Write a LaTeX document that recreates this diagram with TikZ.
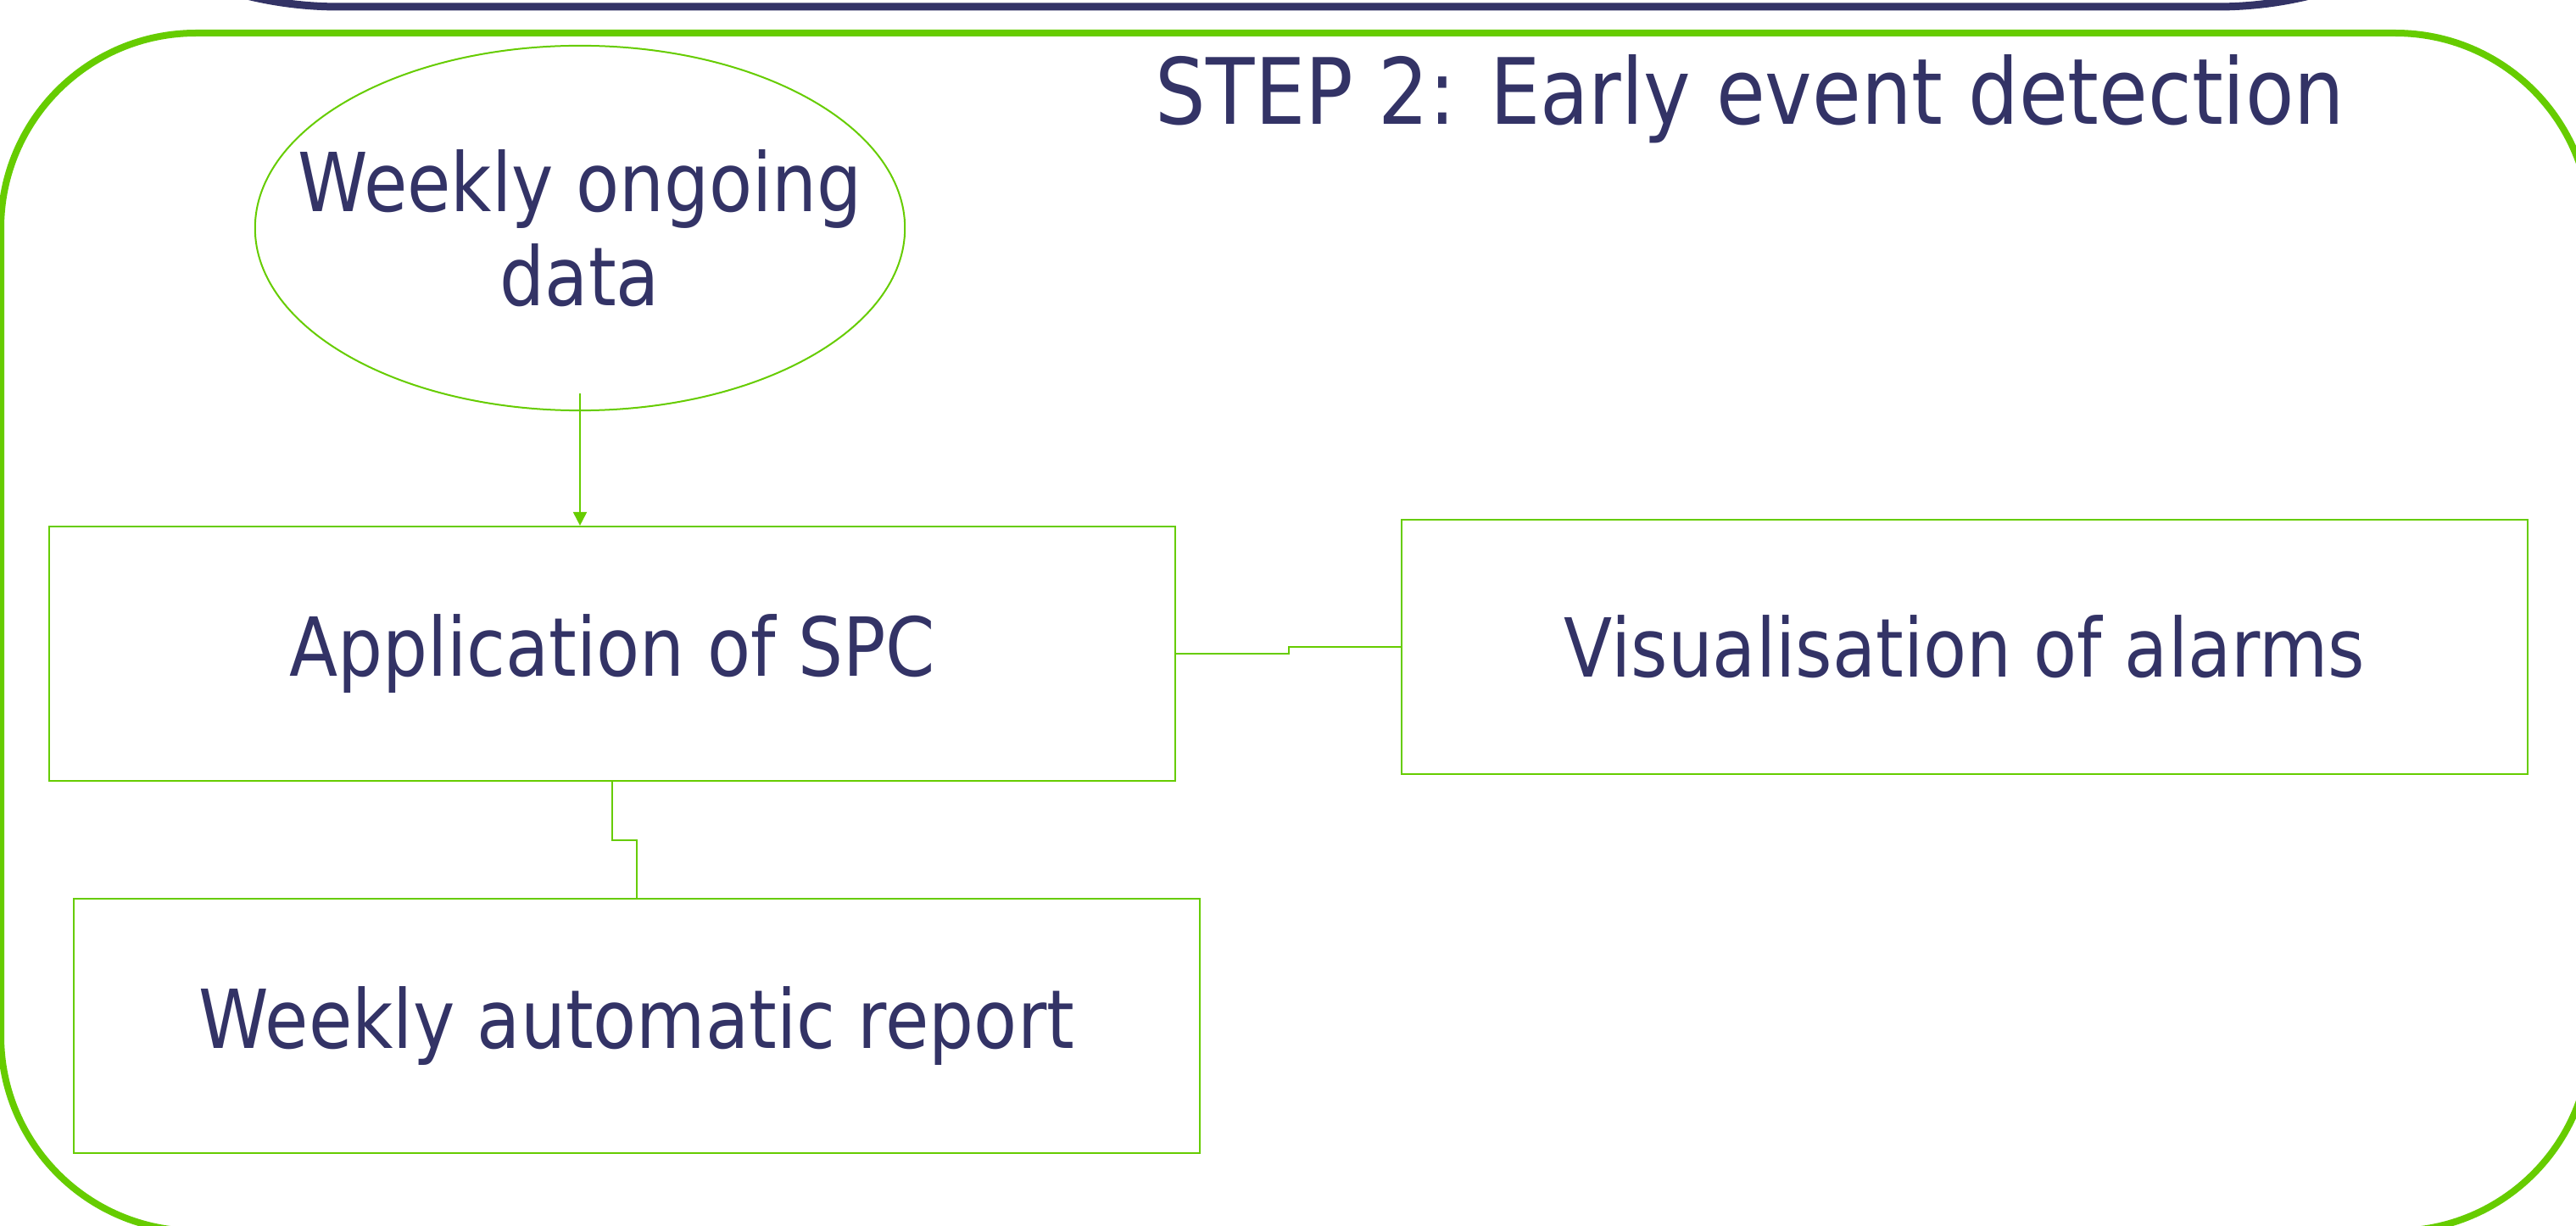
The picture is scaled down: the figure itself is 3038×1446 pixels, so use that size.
\documentclass[tikz,border=0pt]{standalone}
\usepackage{fontspec}
\setmainfont{DejaVu Sans}[FakeStretch=0.87]
\usetikzlibrary{shapes.geometric,arrows.meta,calc}
\definecolor{stepgreen}{HTML}{66CC00}
\definecolor{stepblue}{HTML}{333366}
\tikzset{
    stepframe/.style={draw=stepgreen, line width=0.08cm, rounded corners=2.3cm},
    prevframe/.style={draw=stepblue, line width=0.09cm, rounded corners=4.6cm},
    stepbox/.style={draw=stepgreen, line width=0.02cm, text=stepblue, minimum width=13.28cm, minimum height=3cm, inner sep=0pt, font=\fontsize{27.3}{33}\selectfont},
    datablob/.style={ellipse, draw=stepgreen, line width=0.02cm, minimum width=7.66cm, minimum height=4.3cm, inner sep=0pt},
    blobtext/.style={text=stepblue, align=center, inner sep=0pt, font=\fontsize{27.3}{33}\selectfont},
    link/.style={draw=stepgreen, line width=0.02cm}
}
\begin{document}
\begin{tikzpicture}[x=0.01cm, y=-0.01cm]
    \useasboundingbox (0,0) rectangle (3038,1446);
    \clip (0,0) rectangle (3038,1446);
    % frames
    \draw[prevframe] (-60,-600) rectangle (3075,8);
    \draw[stepframe] (1,39) rectangle (3055,1452);
    \node[anchor=base, text=stepblue, font=\fontsize{30.7}{37}\selectfont] (title) at (2064,147) {STEP 2: Early event detection};
    % nodes
    \node[datablob] (data) at (684,269) {};
    \node[blobtext] (datatext) at (data.center) {Weekly ongoing\\[-0.05cm]data};
    \node[stepbox] (spc) at (722,771) {Application of SPC};
    \node[stepbox] (vis) at (2317,763) {Visualisation of alarms};
    \node[stepbox] (report) at (751,1210) {Weekly automatic report};
    % connectors
    \draw[link, -{Triangle[length=0.16cm, width=0.16cm]}] ([yshift=0.21cm]data.south) -- (spc.north -| data.south);
    \draw[link] (spc.east) -| ($(spc.east)!0.5!(vis.west)$) |- (vis.west);
    \draw[link] (spc.south) |- ($(spc.south)!0.5!(report.north)$) -| (report.north);
\end{tikzpicture}
\end{document}
